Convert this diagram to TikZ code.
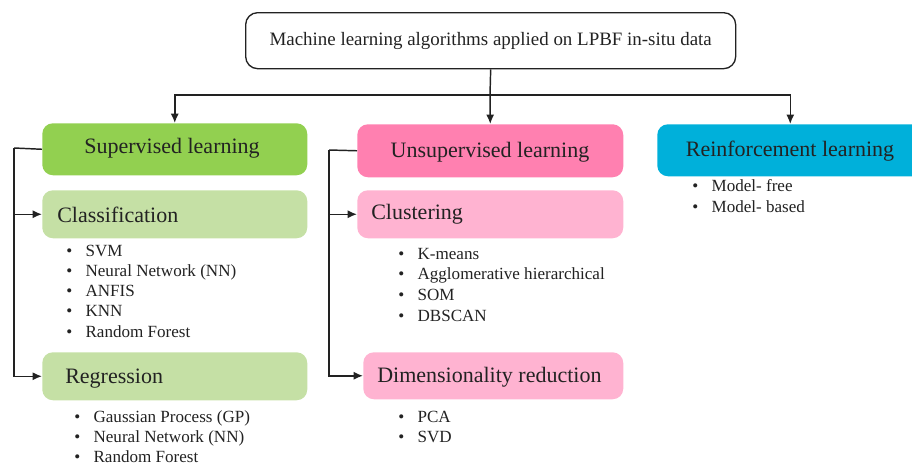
\documentclass[tikz,border=0pt]{standalone}
\usepackage{fontspec}
\setmainfont{Liberation Serif}
\usetikzlibrary{arrows.meta}
\definecolor{gsup}{HTML}{92D050}
\definecolor{glight}{HTML}{C5E0A5}
\definecolor{psup}{HTML}{FF80B0}
\definecolor{plight}{HTML}{FFB3D1}
\definecolor{cyanbox}{HTML}{00B0DA}
\definecolor{ink}{HTML}{222222}
\tikzset{
  box/.style={rounded corners=8pt, inner sep=0pt, anchor=north west, text=ink},
  head/.style={font=\fontsize{16.5}{19}\selectfont},
  item/.style={anchor=west, inner sep=0pt, text=ink, font=\fontsize{12.8}{15}\selectfont, text height=9pt, text depth=3pt},
  conn/.style={draw=ink, line width=1.1pt},
  arr/.style={conn, -{Latex[length=7pt,width=6pt]}},
}
\newcommand\bulitem[3]{\node[item] (#1) at (#2) {\makebox[14.5pt][l]{•}#3};}
\begin{document}
\begin{tikzpicture}[x=0.75pt,y=-0.75pt]
\useasboundingbox (0,0) rectangle (912,464);
% top
\node[draw=ink, line width=1pt, rounded corners=9pt, minimum width=490*0.75pt, minimum height=56*0.75pt, anchor=north west, inner sep=0pt, font=\fontsize{14.2}{17}\selectfont, text=ink] (top) at (245,12) {Machine learning algorithms applied on LPBF in-situ data};
% level 1
\node[box, fill=gsup, minimum width=265*0.75pt, minimum height=52*0.75pt] (sup) at (42,123) {};
\node[head, text=ink] (suptxt) at (172,148) {Supervised learning};
\node[box, fill=psup, minimum width=266*0.75pt, minimum height=53*0.75pt] (uns) at (357,124) {};
\node[head, text=ink] (unstxt) at (490,152) {Unsupervised learning};
\node[box, fill=cyanbox, minimum width=266*0.75pt, minimum height=52*0.75pt] (rei) at (657,124) {};
\node[head, text=ink] (reitxt) at (790,151) {Reinforcement learning};
% level 2
\node[box, fill=glight, minimum width=265*0.75pt, minimum height=48*0.75pt] (cls) at (42,190) {};
\node[head, anchor=west, inner sep=0pt, text=ink] (clstxt) at (57,215) {Classification};
\node[box, fill=glight, minimum width=265*0.75pt, minimum height=48*0.75pt] (reg) at (42,352) {};
\node[head, anchor=west, inner sep=0pt, text=ink] (regtxt) at (65,379) {Regression};
\node[box, fill=plight, minimum width=266*0.75pt, minimum height=48*0.75pt] (clu) at (357,190) {};
\node[head, anchor=west, inner sep=0pt, text=ink] (clutxt) at (371,214) {Clustering};
\node[box, fill=plight, minimum width=260*0.75pt, minimum height=47*0.75pt] (dim) at (363,352) {};
\node[head, anchor=west, inner sep=0pt, text=ink] (dimtxt) at (377,377) {Dimensionality reduction};
% connectors top
\coordinate (j) at (490,95);
\draw[conn] (top.south) -- (j);
\draw[arr] (j) -| (sup.north);
\draw[arr] (j) -- (uns.north);
\draw[arr] (j) -| (rei.north);
% brackets
\coordinate (ls) at (14,148);
\coordinate (us) at (329,150);
\draw[conn] (sup.west) -- (ls);
\draw[arr] (ls) |- (reg.west);
\draw[arr] (ls |- cls.west) -- (cls.west);
\draw[conn] (uns.west) -- (us);
\draw[arr] (us) |- (dim.west);
\draw[arr] (us |- clu.west) -- (clu.west);
% lists
\bulitem{c1}{66,252}{SVM}
\bulitem{c2}{66,272}{Neural Network (NN)}
\bulitem{c3}{66,292.5}{ANFIS}
\bulitem{c4}{66,312.5}{KNN}
\bulitem{c5}{66,333}{Random Forest}
\bulitem{r1}{74,418}{Gaussian Process (GP)}
\bulitem{r2}{74,438.5}{Neural Network (NN)}
\bulitem{r3}{74,458}{Random Forest}
\bulitem{k1}{398,255}{K-means}
\bulitem{k2}{398,275.5}{Agglomerative hierarchical}
\bulitem{k3}{398,296}{SOM}
\bulitem{k4}{398,317}{DBSCAN}
\bulitem{d1}{398,418}{PCA}
\bulitem{d2}{398,438}{SVD}
\bulitem{m1}{692,187}{Model- free}
\bulitem{m2}{692,208}{Model- based}
\end{tikzpicture}
\end{document}
